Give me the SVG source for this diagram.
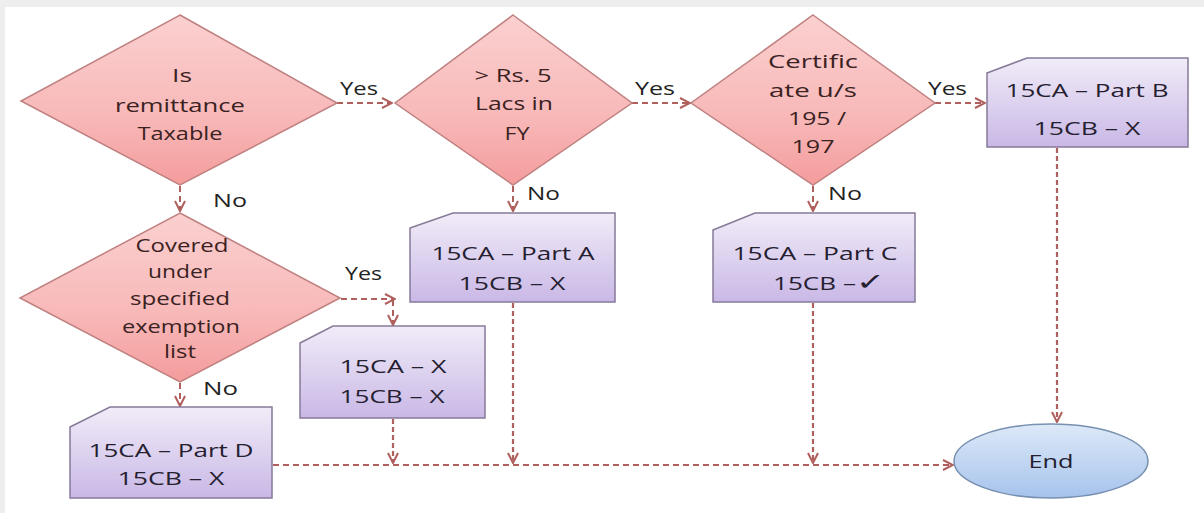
<svg xmlns="http://www.w3.org/2000/svg" width="1204" height="513" viewBox="0 0 1204 513">
<defs>
<linearGradient id="gDia" x1="0" y1="0" x2="0" y2="1">
<stop offset="0" stop-color="#fbd0d0"/>
<stop offset="0.6" stop-color="#f8b8b8"/>
<stop offset="1" stop-color="#f49c9c"/>
</linearGradient>
<linearGradient id="gBox" x1="0" y1="0" x2="0" y2="1">
<stop offset="0" stop-color="#f1ecf8"/>
<stop offset="1" stop-color="#c9b8e6"/>
</linearGradient>
<linearGradient id="gEnd" x1="0" y1="0" x2="0" y2="1">
<stop offset="0" stop-color="#dde9f8"/>
<stop offset="1" stop-color="#a6c3ec"/>
</linearGradient>
<marker id="arrL" viewBox="0 0 12 12" refX="11" refY="6" markerWidth="12" markerHeight="12" orient="auto" markerUnits="userSpaceOnUse">
<path d="M1,1 L11,6 L1,11" fill="none" stroke="#b0605c" stroke-width="2"/>
</marker>
</defs>
<style>
.dia{fill:url(#gDia);stroke:#bf8080;stroke-width:1.5}
.box{fill:url(#gBox);stroke:#877a98;stroke-width:1.5}
.end{fill:url(#gEnd);stroke:#7890b0;stroke-width:1.5}
.t{font-family:"Open Sans","Liberation Sans",sans-serif;font-size:18px;text-anchor:middle}
.td{fill:#3a2222}
.tb{fill:#252030}
.lbl{font-family:"Open Sans","Liberation Sans",sans-serif;font-size:18px;fill:#222}
.c{fill:none;stroke:#b0605c;stroke-width:2;stroke-dasharray:6 4}
.cv{fill:none;stroke:#b0605c;stroke-width:2.2;stroke-dasharray:5 3}
</style>
<rect x="0" y="0" width="1204" height="513" fill="#ffffff"/>
<rect x="0" y="0" width="1204" height="7" fill="#eeeeee"/>
<rect x="0" y="0" width="5" height="513" fill="#eeeeee"/>

<g id="connectors">
<path class="c" d="M337,103 L392,103" marker-end="url(#arrL)"/>
<path class="c" d="M632,103 L690,103" marker-end="url(#arrL)"/>
<path class="c" d="M935,103 L985,103" marker-end="url(#arrL)"/>
<path class="c" d="M180,186 L180,211" marker-end="url(#arrL)"/>
<path class="c" d="M513,186 L513,211" marker-end="url(#arrL)"/>
<path class="c" d="M813,186 L813,211" marker-end="url(#arrL)"/>
<path class="c" d="M341,299 L395,299" marker-end="url(#arrL)"/>
<path class="c" d="M393,300 L393,325" marker-end="url(#arrL)"/>
<path class="c" d="M180,383 L180,406" marker-end="url(#arrL)"/>
<path class="c" d="M273,465 L953,465" marker-end="url(#arrL)"/>
<path class="cv" d="M393,419 L393,463" marker-end="url(#arrL)"/>
<path class="cv" d="M513,303 L513,463" marker-end="url(#arrL)"/>
<path class="cv" d="M813,303 L813,463" marker-end="url(#arrL)"/>
<path class="cv" d="M1057,148 L1057,422" marker-end="url(#arrL)"/>
<text class="lbl" x="340" y="95" textLength="38" lengthAdjust="spacingAndGlyphs">Yes</text>
<text class="lbl" x="635" y="95" textLength="40" lengthAdjust="spacingAndGlyphs">Yes</text>
<text class="lbl" x="928" y="95" textLength="39" lengthAdjust="spacingAndGlyphs">Yes</text>
<text class="lbl" x="345" y="280" textLength="37" lengthAdjust="spacingAndGlyphs">Yes</text>
<text class="lbl" x="213" y="207" textLength="34" lengthAdjust="spacingAndGlyphs">No</text>
<text class="lbl" x="527" y="200" textLength="33" lengthAdjust="spacingAndGlyphs">No</text>
<text class="lbl" x="828" y="200" textLength="34" lengthAdjust="spacingAndGlyphs">No</text>
<text class="lbl" x="203" y="395" textLength="35" lengthAdjust="spacingAndGlyphs">No</text>
</g>

<g id="d1">
<polygon class="dia" points="180,15 337,103 180,185 21,101"/>
<text class="t td" x="182" y="82" textLength="20" lengthAdjust="spacingAndGlyphs">Is</text>
<text class="t td" x="180" y="112" textLength="130" lengthAdjust="spacingAndGlyphs">remittance</text>
<text class="t td" x="180" y="140" textLength="85" lengthAdjust="spacingAndGlyphs">Taxable</text>
</g>

<g id="d2">
<polygon class="dia" points="513,15 632,103 513,185 395,103"/>
<text class="t td" x="513" y="82" textLength="77" lengthAdjust="spacingAndGlyphs">&gt; Rs. 5</text>
<text class="t td" x="514" y="110" textLength="78" lengthAdjust="spacingAndGlyphs">Lacs in</text>
<text class="t td" x="517" y="140" textLength="25" lengthAdjust="spacingAndGlyphs">FY</text>
</g>

<g id="d3">
<polygon class="dia" points="813,15 935,103 813,185 691,103"/>
<text class="t td" x="813" y="68" textLength="90" lengthAdjust="spacingAndGlyphs">Certific</text>
<text class="t td" x="813" y="97" textLength="88" lengthAdjust="spacingAndGlyphs">ate u/s</text>
<text class="t td" x="817" y="125" textLength="58" lengthAdjust="spacingAndGlyphs">195 /</text>
<text class="t td" x="813" y="153" textLength="43" lengthAdjust="spacingAndGlyphs">197</text>
</g>

<g id="d4">
<polygon class="dia" points="180,213 340,298 180,382 20,298"/>
<text class="t td" x="182" y="252" textLength="93" lengthAdjust="spacingAndGlyphs">Covered</text>
<text class="t td" x="180" y="278" textLength="64" lengthAdjust="spacingAndGlyphs">under</text>
<text class="t td" x="180" y="305" textLength="100" lengthAdjust="spacingAndGlyphs">specified</text>
<text class="t td" x="181" y="333" textLength="118" lengthAdjust="spacingAndGlyphs">exemption</text>
<text class="t td" x="180" y="358" textLength="32" lengthAdjust="spacingAndGlyphs">list</text>
</g>

<g id="boxB">
<path class="box" d="M987,73 L1027,58 L1188,58 L1188,147 L987,147 Z"/>
<text class="t tb" x="1087" y="97" textLength="163" lengthAdjust="spacingAndGlyphs">15CA – Part B</text>
<text class="t tb" x="1087" y="135" textLength="107" lengthAdjust="spacingAndGlyphs">15CB – X</text>
</g>

<g id="boxA">
<path class="box" d="M410,228 L453,213 L615,213 L615,302 L410,302 Z"/>
<text class="t tb" x="513" y="260" textLength="163" lengthAdjust="spacingAndGlyphs">15CA – Part A</text>
<text class="t tb" x="512" y="290" textLength="107" lengthAdjust="spacingAndGlyphs">15CB – X</text>
</g>

<g id="boxC">
<path class="box" d="M713,230 L755,213 L915,213 L915,302 L713,302 Z"/>
<text class="t tb" x="815" y="260" textLength="165" lengthAdjust="spacingAndGlyphs">15CA – Part C</text>
<text class="t tb" x="829" y="290" textLength="112" lengthAdjust="spacingAndGlyphs">15CB –<tspan font-size="24px">✓</tspan></text>
</g>

<g id="boxX">
<path class="box" d="M300,343 L333,326 L485,326 L485,418 L300,418 Z"/>
<text class="t tb" x="393" y="373" textLength="107" lengthAdjust="spacingAndGlyphs">15CA – X</text>
<text class="t tb" x="392" y="403" textLength="105" lengthAdjust="spacingAndGlyphs">15CB – X</text>
</g>

<g id="boxD">
<path class="box" d="M70,427 L110,407 L272,407 L272,498 L70,498 Z"/>
<text class="t tb" x="171" y="457" textLength="165" lengthAdjust="spacingAndGlyphs">15CA – Part D</text>
<text class="t tb" x="171" y="485" textLength="107" lengthAdjust="spacingAndGlyphs">15CB – X</text>
</g>

<g id="end">
<ellipse class="end" cx="1051" cy="461" rx="97" ry="37"/>
<text class="t tb" x="1051" y="468" textLength="45" lengthAdjust="spacingAndGlyphs">End</text>
</g>
</svg>
